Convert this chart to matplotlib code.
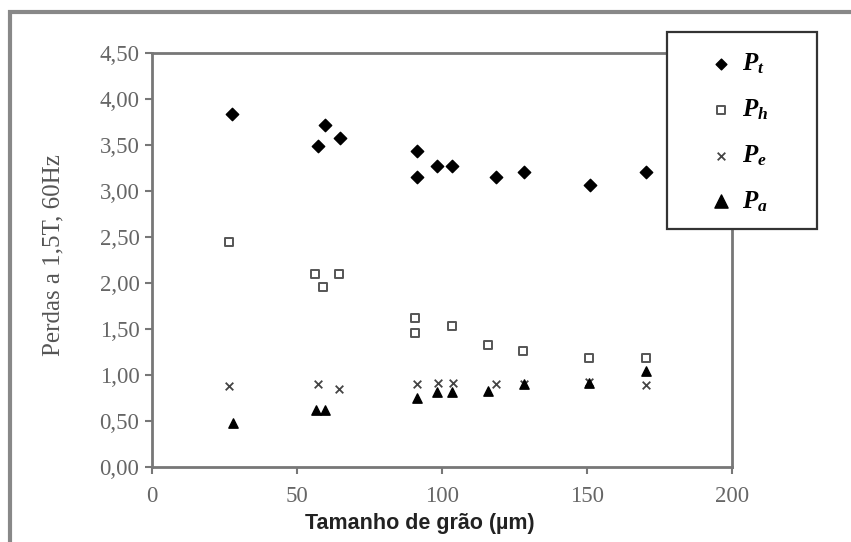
import numpy as np
import matplotlib
matplotlib.use("Agg")
import matplotlib.pyplot as plt
from matplotlib.patches import Rectangle

plt.rcParams['font.family'] = ['Liberation Serif', 'DejaVu Serif']
plt.rcParams['mathtext.fontset'] = 'custom'
plt.rcParams['mathtext.it'] = 'Liberation Serif:italic:bold'
plt.rcParams['mathtext.rm'] = 'Liberation Serif:bold'

# grain size (um) and losses (W/kg) at 1.5T, 60Hz
pt_x = [27.6, 57.2, 59.7, 64.8, 91.4, 91.4, 98.3, 103.4, 118.6, 128.3, 151.0, 170.3]
pt_y = [3.84, 3.49, 3.72, 3.58, 3.43, 3.15, 3.27, 3.27, 3.15, 3.21, 3.07, 3.21]

ph_x = [26.6, 56.2, 64.5, 59.0, 90.7, 90.7, 103.4, 115.9, 128.0, 150.7, 170.3]
ph_y = [2.45, 2.10, 2.10, 1.96, 1.62, 1.46, 1.53, 1.33, 1.26, 1.18, 1.18]

pe_x = [26.6, 57.2, 64.5, 91.4, 98.6, 103.8, 118.6, 128.3, 150.7, 170.3]
pe_y = [0.88, 0.90, 0.85, 0.90, 0.91, 0.91, 0.90, 0.90, 0.92, 0.89]

pa_x = [27.9, 56.5, 59.7, 91.4, 98.3, 103.4, 115.9, 128.3, 150.7, 170.3]
pa_y = [0.48, 0.62, 0.62, 0.75, 0.82, 0.82, 0.83, 0.90, 0.91, 1.04]

labels = [r'$P_t$', r'$P_h$', r'$P_e$', r'$P_a$']
yticks = [0, 0.5, 1, 1.5, 2, 2.5, 3, 3.5, 4, 4.5]
xticks = [0, 50, 100, 150, 200]

W, H = 851, 542
fig = plt.figure(figsize=(W / 100, H / 100), dpi=100)
fig.patch.set_facecolor('white')

ax = fig.add_axes([152 / W, 1 - 467 / H, (732 - 152) / W, (467 - 53) / H])

h1 = ax.scatter(pt_x, pt_y, marker='D', s=40, color='black', zorder=3)
h2 = ax.scatter(ph_x, ph_y, marker='s', s=40, facecolor='white', edgecolor='#555555', linewidths=1.4, zorder=3)
h3 = ax.scatter(pe_x, pe_y, marker='x', s=30, color='#444444', linewidths=1.3, zorder=3)
h4 = ax.scatter(pa_x, pa_y, marker='^', s=45, color='black', zorder=4)

ax.set_xlim(0, 200)
ax.set_ylim(0, 4.5)
ax.set_xticks(xticks)
ax.set_yticks(yticks)
ax.set_yticklabels([f"{v:.2f}".replace('.', ',') for v in yticks])
ax.set_xticklabels([str(v) for v in xticks])
ax.tick_params(axis='both', colors='#777777', labelcolor='#666666', labelsize=16.5,
               direction='out', length=5, width=1.5)
ax.tick_params(axis='x', pad=9)
ax.tick_params(axis='y', pad=4)
for sp in ax.spines.values():
    sp.set_color('#777777')
    sp.set_linewidth(2)

fig.text(53 / W, 1 - 255 / H, 'Perdas a 1,5T, 60Hz', rotation=90, ha='center', va='center',
         fontsize=18, color='#555555')
fig.text(420 / W, 1 - 523 / H, 'Tamanho de grão (µm)', ha='center', va='center',
         fontsize=15.5, fontweight='bold', color='#222222', family=['Liberation Sans', 'DejaVu Sans'])

# outer frame, cut off at right and bottom
fig.patches.append(Rectangle((10 / W, -0.1), 1.0, 1 - 12 / H + 0.1, transform=fig.transFigure,
                             fill=False, edgecolor='#888888', linewidth=3, zorder=1))

# legend box
fig.patches.append(Rectangle((667 / W, 1 - 229 / H), 150 / W, 197 / H, transform=fig.transFigure,
                             facecolor='white', edgecolor='#333333', linewidth=1.6, zorder=2))
leg = fig.legend([h1, h2, h3, h4], labels, loc='upper left',
                 bbox_to_anchor=(693 / W, 1 - 39 / H), frameon=False, fontsize=18,
                 labelspacing=0.85, handletextpad=0.25, handlelength=1.2, borderpad=0)
leg.set_zorder(5)
for hnd, sz in zip(leg.legend_handles, [30, 40, 30, 90]):
    hnd.set_sizes([sz])

fig.savefig('out.png', dpi=100)
